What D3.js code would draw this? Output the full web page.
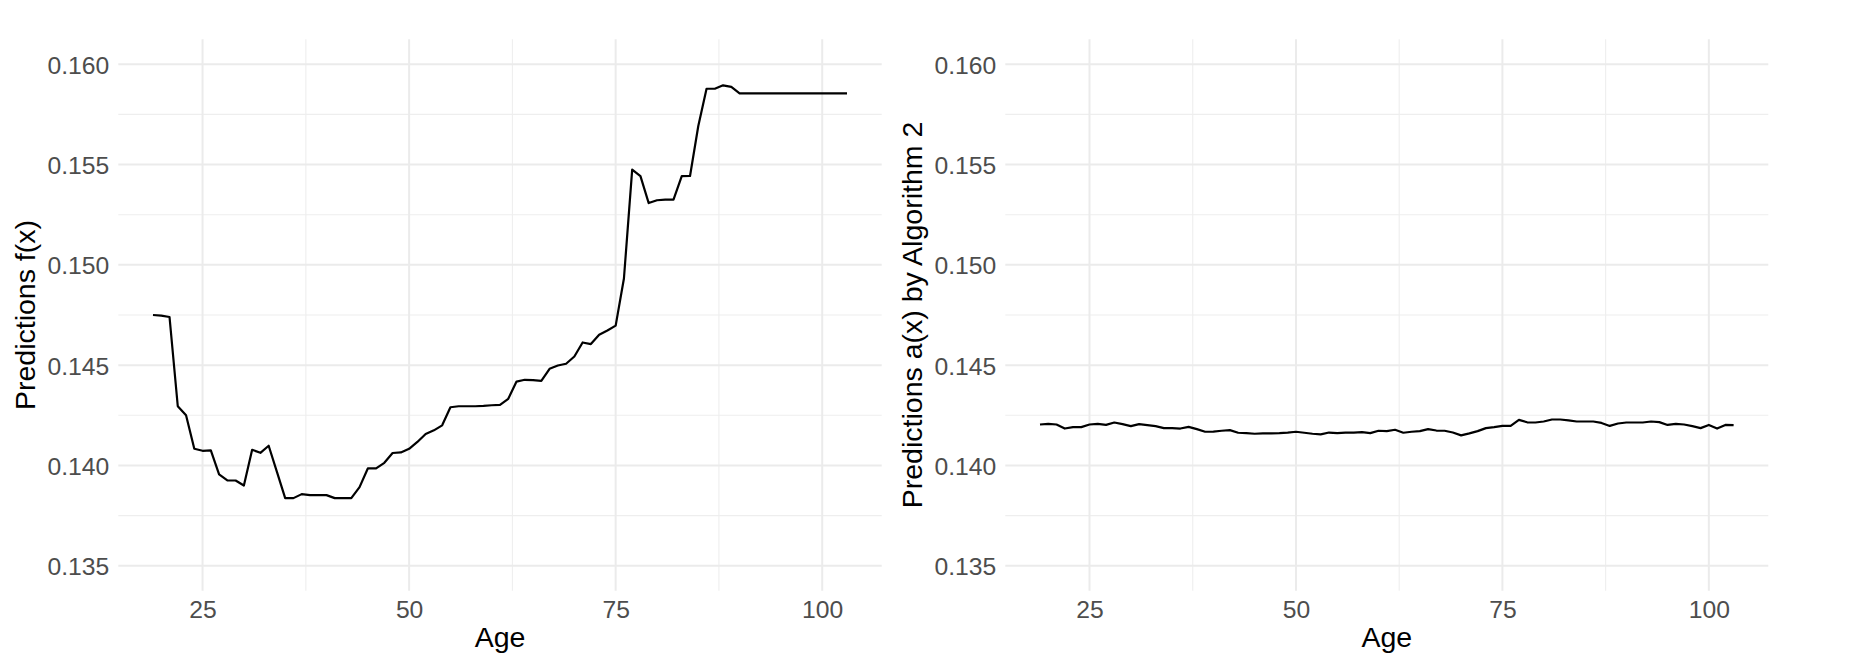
<!DOCTYPE html>
<html>
<head>
<meta charset="utf-8">
<title>Predictions by Age</title>
<script src="https://cdn.jsdelivr.net/npm/d3@7"></script>
<style>
	html, body { margin: 0; padding: 0; background: #ffffff; }
	svg { display: block; font-family: 'Liberation Sans', Arial, Helvetica, sans-serif; }
</style>
</head>
<body>
<svg id="chart" width="1860" height="668"></svg>
<script>
// Ages shared by both panels
const ages = d3.range(19, 104);

// Left panel: predictions f(x)
const predictionsF = [
	0.14750, 0.14747, 0.14740, 0.14295, 0.14250, 0.14083, 0.14073, 0.14075, 0.13955, 0.13925,
	0.13925, 0.13900, 0.14078, 0.14063, 0.14098, 0.13968, 0.13837, 0.13837, 0.13857, 0.13852,
	0.13852, 0.13852, 0.13837, 0.13837, 0.13837, 0.13892, 0.13985, 0.13985, 0.14013, 0.14062,
	0.14065, 0.14083, 0.14117, 0.14157, 0.14175, 0.14200, 0.14290, 0.14295, 0.14295, 0.14295,
	0.14297, 0.14300, 0.14302, 0.14332, 0.14418, 0.14427, 0.14425, 0.14422, 0.14482, 0.14498,
	0.14507, 0.14543, 0.14613, 0.14605, 0.14652, 0.14673, 0.14697, 0.14932, 0.15475, 0.15442,
	0.15308, 0.15322, 0.15325, 0.15325, 0.15442, 0.15443, 0.15692, 0.15878, 0.15878, 0.15895,
	0.15887, 0.15855, 0.15855, 0.15855, 0.15855, 0.15855, 0.15855, 0.15855, 0.15855, 0.15855,
	0.15855, 0.15855, 0.15855, 0.15855, 0.15855
];

// Right panel: predictions a(x) by Algorithm 2
const predictionsA = [
	0.14204, 0.14207, 0.14204, 0.14184, 0.14191, 0.14191, 0.14204, 0.14207, 0.14202, 0.14214,
	0.14206, 0.14196, 0.14206, 0.14201, 0.14196, 0.14186, 0.14186, 0.14184, 0.14192, 0.14181,
	0.14168, 0.14169, 0.14173, 0.14176, 0.14163, 0.14161, 0.14158, 0.14160, 0.14160, 0.14161,
	0.14164, 0.14168, 0.14163, 0.14158, 0.14155, 0.14164, 0.14161, 0.14164, 0.14164, 0.14166,
	0.14161, 0.14173, 0.14171, 0.14178, 0.14163, 0.14168, 0.14171, 0.14181, 0.14174, 0.14173,
	0.14164, 0.14150, 0.14160, 0.14171, 0.14186, 0.14191, 0.14197, 0.14197, 0.14227, 0.14215,
	0.14214, 0.14219, 0.14229, 0.14229, 0.14225, 0.14219, 0.14219, 0.14219, 0.14212, 0.14197,
	0.14209, 0.14214, 0.14214, 0.14214, 0.14219, 0.14216, 0.14202, 0.14207, 0.14204, 0.14196,
	0.14186, 0.14202, 0.14184, 0.14202, 0.14201
];

// Axis ticks (same limits on both panels)
const xTicks = [25, 50, 75, 100];
const xMinorTicks = [37.5, 62.5, 87.5];
const yTicks = [0.135, 0.140, 0.145, 0.150, 0.155, 0.160];
const yMinorTicks = [0.1375, 0.1425, 0.1475, 0.1525, 0.1575];
const yLimits = [0.135, 0.160];

const xTitle = 'Age';
const yTitleLeft = 'Predictions f(x)';
const yTitleRight = 'Predictions a(x) by Algorithm 2';

const svg = d3.select('#chart');
svg.append('rect').attr('width', 1860).attr('height', 668).attr('fill', '#ffffff');

/**
 * Draws one ggplot-style (theme_minimal) panel
 * @param {Object} opts - panel box, values and title
 */
function renderPanel(opts) {
	const { left, right, top, bottom, values, yTitle, yTitleX } = opts;

	// ggplot adds 5% on each side of the data / limits
	const xExt = d3.extent(ages);
	const xPad = (xExt[1] - xExt[0]) * 0.05;
	const yPad = (yLimits[1] - yLimits[0]) * 0.05;

	const x = d3.scaleLinear()
		.domain([xExt[0] - xPad, xExt[1] + xPad])
		.range([left, right]);
	const y = d3.scaleLinear()
		.domain([yLimits[0] - yPad, yLimits[1] + yPad])
		.range([bottom, top]);

	const g = svg.append('g').attr('class', 'panel');

	// Minor grid
	g.append('g')
		.selectAll('line.hminor')
		.data(yMinorTicks)
		.join('line')
		.attr('x1', left).attr('x2', right)
		.attr('y1', (d) => y(d)).attr('y2', (d) => y(d))
		.attr('stroke', '#EEEEEE')
		.attr('stroke-width', 1.1);
	g.append('g')
		.selectAll('line.vminor')
		.data(xMinorTicks)
		.join('line')
		.attr('y1', top).attr('y2', bottom)
		.attr('x1', (d) => x(d)).attr('x2', (d) => x(d))
		.attr('stroke', '#EEEEEE')
		.attr('stroke-width', 1.1);

	// Major grid
	g.append('g')
		.selectAll('line.hmajor')
		.data(yTicks)
		.join('line')
		.attr('x1', left).attr('x2', right)
		.attr('y1', (d) => y(d)).attr('y2', (d) => y(d))
		.attr('stroke', '#EBEBEB')
		.attr('stroke-width', 2);
	g.append('g')
		.selectAll('line.vmajor')
		.data(xTicks)
		.join('line')
		.attr('y1', top).attr('y2', bottom)
		.attr('x1', (d) => x(d)).attr('x2', (d) => x(d))
		.attr('stroke', '#EBEBEB')
		.attr('stroke-width', 2);

	// Axes without domain lines / tick marks (theme_minimal)
	const xAxis = g.append('g')
		.attr('transform', `translate(0,${bottom})`)
		.call(d3.axisBottom(x).tickValues(xTicks).tickSize(0).tickPadding(27));
	xAxis.select('.domain').remove();
	xAxis.selectAll('text')
		.attr('dy', 0)
		.attr('font-size', '24.7px')
		.attr('font-family', "'Liberation Sans', Arial, sans-serif")
		.attr('fill', '#4D4D4D');

	const yAxis = g.append('g')
		.attr('transform', `translate(${left},0)`)
		.call(d3.axisLeft(y).tickValues(yTicks).tickSize(0).tickPadding(9).tickFormat(d3.format('.3f')));
	yAxis.select('.domain').remove();
	yAxis.selectAll('text')
		.attr('dy', '0.36em')
		.attr('font-size', '24.7px')
		.attr('font-family', "'Liberation Sans', Arial, sans-serif")
		.attr('fill', '#4D4D4D');

	// Data line
	const line = d3.line()
		.x((d, i) => x(ages[i]))
		.y((d) => y(d));
	g.append('path')
		.datum(values)
		.attr('d', line)
		.attr('fill', 'none')
		.attr('stroke', '#000000')
		.attr('stroke-width', 2.2)
		.attr('stroke-linejoin', 'round');

	// Titles
	g.append('text')
		.attr('x', (left + right) / 2)
		.attr('y', 647)
		.attr('text-anchor', 'middle')
		.attr('font-size', '28.5px')
		.attr('fill', '#000000')
		.text(xTitle);
	g.append('text')
		.attr('transform', `translate(${yTitleX},${(top + bottom) / 2}) rotate(-90)`)
		.attr('text-anchor', 'middle')
		.attr('font-size', '28.5px')
		.attr('fill', '#000000')
		.text(yTitle);
}

renderPanel({ left: 118.3, right: 881.7, top: 39.2, bottom: 590.8, values: predictionsF, yTitle: yTitleLeft, yTitleX: 35 });
renderPanel({ left: 1005.3, right: 1768.3, top: 39.2, bottom: 590.8, values: predictionsA, yTitle: yTitleRight, yTitleX: 922 });
</script>
</body>
</html>
